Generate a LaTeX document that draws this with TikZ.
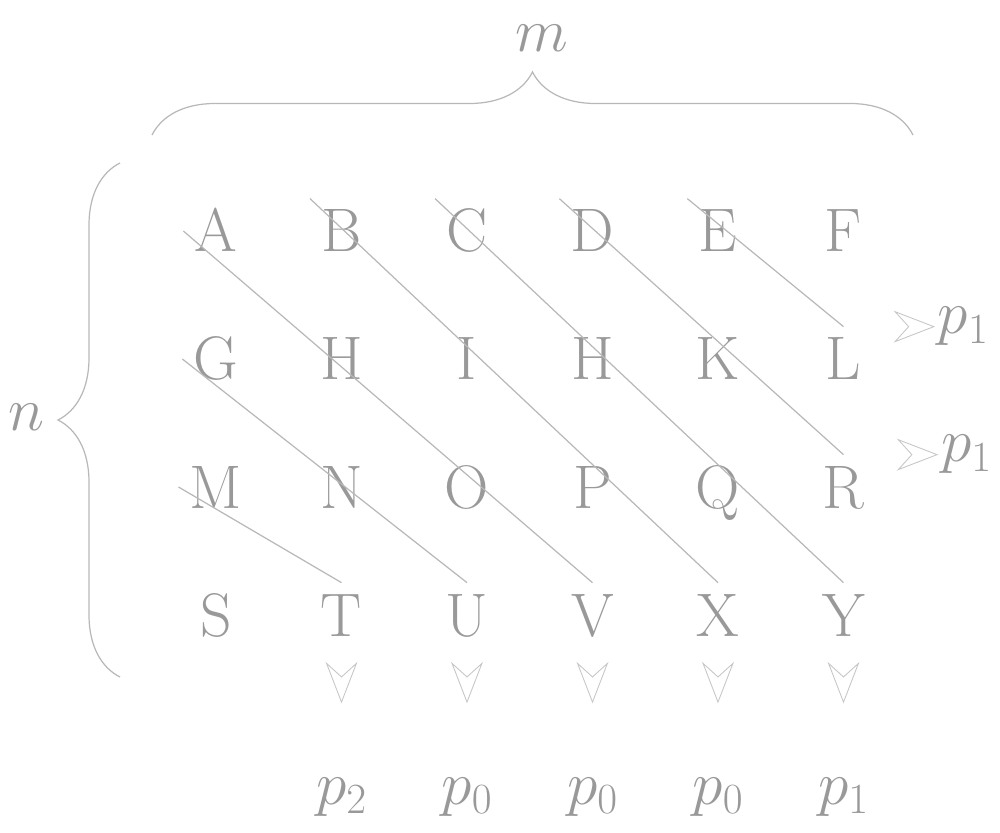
\RequirePackage{fix-cm}
\documentclass[tikz,border=0pt]{standalone}
\usepackage{amsmath}
\usepackage{tikz}
\usetikzlibrary{arrows.meta, decorations.pathreplacing, positioning}

\begin{document}
\begin{tikzpicture}[
    letter/.style={text=black!40, font=\fontsize{35}{42}\selectfont, inner sep=0.22cm, text height=0.84cm, text depth=0cm},
    plabel/.style={text=black!40, font=\fontsize{35}{42}\selectfont, inner sep=0.05cm},
    diag/.style={black!28, line width=0.7pt},
    bracestyle/.style={black!28, line width=0.7pt, decorate},
    tipline/.style={black!22, line width=0.5pt, -{Stealth[length=0.83cm, width=0.64cm, inset=0.29cm, fill=white]}}
]
    \useasboundingbox (0,0) rectangle (20,-16.66);

    % =================================================================
    % LUOI CHU CAI 4 x 6
    % =================================================================
    \foreach \name/\txt [count=\c from 0] in {A/A, B/B, C/C, D/D, E/E, F/F}
        \node[letter] (\name) at ({4.32+2.51*\c},-4.62) {\txt};
    \foreach \name/\txt [count=\c from 0] in {G/G, H/H, I/I, Hb/H, K/K, L/L}
        \node[letter] (\name) at ({4.32+2.51*\c},-7.18) {\txt};
    \foreach \name/\txt [count=\c from 0] in {M/M, N/N, O/O, P/P, Q/Q, R/R}
        \node[letter] (\name) at ({4.32+2.51*\c},-9.74) {\txt};
    \foreach \name/\txt [count=\c from 0] in {S/S, T/T, U/U, V/V, X/X, Y/Y}
        \node[letter] (\name) at ({4.32+2.51*\c},-12.30) {\txt};

    % Cac duong cheo
    \draw[diag] (A.west) -- (V.north);
    \draw[diag] (B.north west) -- (X.north);
    \draw[diag] (C.north west) -- (Y.north);
    \draw[diag] (D.north west) -- (R.north);
    \draw[diag] (E.north west) -- (L.north);
    \draw[diag] (G.west) -- (U.north);
    \draw[diag] (M.west) -- (T.north);

    % =================================================================
    % NHAN p O DUOI VA BEN PHAI
    % =================================================================
    \foreach \name/\sub in {T/2, U/0, V/0, X/0, Y/1} {
        \node[plabel, below=2.55cm of \name.south] (p\name) {$p_{\sub}$};
        \draw[tipline, shorten <=0.58cm, shorten >=1.43cm] (\name.south) -- (p\name.north);
    }
    \foreach \name in {L, R} {
        \node[plabel, right=1.25cm of \name.north east] (p\name) {$p_1$};
        \draw[tipline, shorten <=0.7cm] (\name.north east) -- (p\name.west);
    }

    % =================================================================
    % NGOAC m VA n
    % =================================================================
    \draw[bracestyle, decoration={brace, amplitude=1.26cm}] (3.04,-2.7) -- (18.26,-2.7);
    \node[plabel] (m) at (10.84,-0.77) {$m$};

    \draw[bracestyle, decoration={brace, amplitude=1.24cm}] (2.4,-13.54) -- (2.4,-3.26);
    \node[plabel] (n) at (0.52,-8.34) {$n$};

\end{tikzpicture}
\end{document}
